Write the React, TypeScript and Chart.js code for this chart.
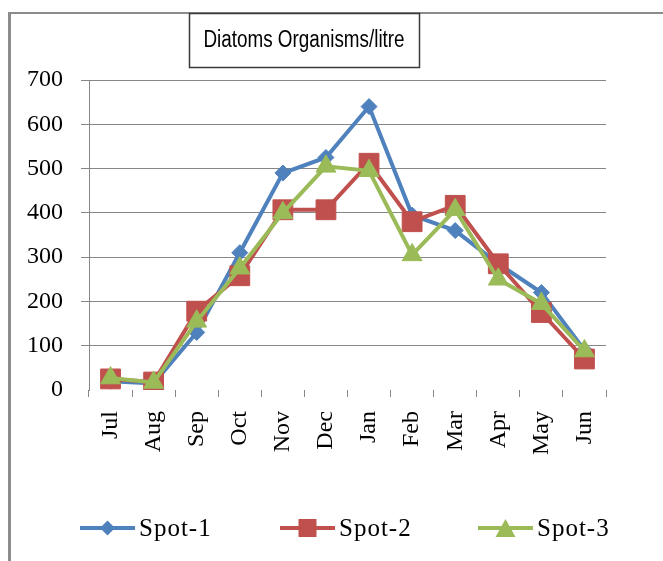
import React, { useEffect, useRef } from "react";
import { Chart, registerables } from "chart.js";

Chart.register(...registerables);

const TITLE = "Diatoms Organisms/litre";
const MONTHS = ["Jul", "Aug", "Sep", "Oct", "Nov", "Dec", "Jan", "Feb", "Mar", "Apr", "May", "Jun"];
const SPOT_1 = [20, 15, 130, 310, 490, 525, 640, 395, 360, 285, 220, 90];
const SPOT_2 = [25, 18, 178, 258, 407, 407, 512, 380, 417, 285, 175, 70];
const SPOT_3 = [27, 17, 155, 275, 400, 505, 495, 305, 407, 250, 195, 88];
const SERIES_NAMES = ["Spot-1", "Spot-2", "Spot-3"];
const Y_MIN = 0;
const Y_MAX = 700;
const Y_STEP = 100;

const BLUE = "#4F81BD";
const RED = "#C0504D";
const GREEN = "#9BBB59";
const GRID = "#868686";

const SERIF = '"Liberation Serif", "Times New Roman", serif';
const SANS = '"Liberation Sans", Arial, sans-serif';

function drawMarker(ctx: CanvasRenderingContext2D, kind: string, x: number, y: number, color: string) {
  ctx.fillStyle = color;
  ctx.beginPath();
  if (kind === "diamond") {
    const r = 7.5;
    ctx.moveTo(x, y - r);
    ctx.lineTo(x + r, y);
    ctx.lineTo(x, y + r);
    ctx.lineTo(x - r, y);
  } else if (kind === "square") {
    const h = 9;
    ctx.rect(x - h, y - h, 2 * h, 2 * h);
  } else {
    const w = 10, h = 9;
    ctx.moveTo(x, y - h);
    ctx.lineTo(x + w, y + h);
    ctx.lineTo(x - w, y + h);
  }
  ctx.closePath();
  ctx.fill();
}

const decorPlugin = {
  id: "decor",
  afterDraw(chart: any) {
    const ctx: CanvasRenderingContext2D = chart.ctx;
    ctx.save();
    // outer frame
    ctx.strokeStyle = "#8c8c8c";
    ctx.lineWidth = 3;
    ctx.beginPath();
    ctx.moveTo(9.5, 12);
    ctx.lineTo(9.5, 561);
    ctx.stroke();
    ctx.lineWidth = 2;
    ctx.beginPath();
    ctx.moveTo(8, 13);
    ctx.lineTo(663, 13);
    ctx.stroke();
    // title box
    ctx.fillStyle = "#ffffff";
    ctx.fillRect(189, 13, 230, 54);
    ctx.strokeStyle = "#3a3a3a";
    ctx.lineWidth = 1.5;
    ctx.strokeRect(189.5, 13.5, 230, 54);
    ctx.save();
    ctx.translate(304, 41);
    ctx.scale(0.82, 1);
    ctx.fillStyle = "#000000";
    ctx.font = `23px ${SANS}`;
    ctx.textAlign = "center";
    ctx.textBaseline = "middle";
    ctx.fillText(TITLE, 0, 0);
    ctx.restore();
    // legend
    const items = [
      { name: SERIES_NAMES[0], color: BLUE, kind: "diamond", x0: 80 },
      { name: SERIES_NAMES[1], color: RED, kind: "square", x0: 280 },
      { name: SERIES_NAMES[2], color: GREEN, kind: "triangle", x0: 478 },
    ];
    const ly = 528;
    for (const it of items) {
      ctx.strokeStyle = it.color;
      ctx.lineWidth = 4;
      ctx.beginPath();
      ctx.moveTo(it.x0, ly);
      ctx.lineTo(it.x0 + 55, ly);
      ctx.stroke();
      drawMarker(ctx, it.kind, it.x0 + 27.5, ly, it.color);
      ctx.fillStyle = "#000000";
      ctx.font = `25px ${SERIF}`;
      (ctx as any).letterSpacing = "1px";
      ctx.textAlign = "left";
      ctx.textBaseline = "middle";
      ctx.fillText(it.name, it.x0 + 59, ly + 1);
      (ctx as any).letterSpacing = "0px";
    }
    ctx.restore();
  },
};

export default function App() {
  const ref = useRef<HTMLCanvasElement | null>(null);
  useEffect(() => {
    if (!ref.current) return;
    const common = { borderWidth: 4, pointBorderWidth: 1, fill: false, tension: 0 };
    const chart = new Chart(ref.current, {
      type: "line",
      data: {
        labels: MONTHS,
        datasets: [
          {
            ...common,
            label: SERIES_NAMES[0],
            data: SPOT_1,
            borderColor: BLUE,
            backgroundColor: BLUE,
            pointBackgroundColor: BLUE,
            pointBorderColor: BLUE,
            pointStyle: "rectRot",
            pointRadius: 8,
            order: 2,
          },
          {
            ...common,
            label: SERIES_NAMES[1],
            data: SPOT_2,
            borderColor: RED,
            backgroundColor: RED,
            pointBackgroundColor: RED,
            pointBorderColor: RED,
            pointStyle: "rect",
            pointRadius: 14,
            order: 1,
          },
          {
            ...common,
            label: SERIES_NAMES[2],
            data: SPOT_3,
            borderColor: GREEN,
            backgroundColor: GREEN,
            pointBackgroundColor: GREEN,
            pointBorderColor: GREEN,
            pointStyle: "triangle",
            pointRadius: 11.5,
            order: 0,
          },
        ],
      },
      options: {
        animation: false,
        responsive: false,
        maintainAspectRatio: false,
        layout: { padding: { left: 0, right: 57, top: 80, bottom: 91 } },
        plugins: {
          legend: { display: false },
          title: { display: false },
          tooltip: { enabled: false },
        },
        scales: {
          x: {
            type: "category",
            offset: true,
            afterFit: (s: any) => {
              s.height = 80;
            },
            border: { display: false },
            grid: {
              offset: true,
              drawOnChartArea: false,
              drawTicks: true,
              tickLength: 7,
              color: GRID,
              lineWidth: 1,
            },
            ticks: {
              autoSkip: false,
              minRotation: 90,
              maxRotation: 90,
              padding: 14,
              color: "#000",
              font: { family: SERIF, size: 24 },
            },
          },
          y: {
            min: Y_MIN,
            max: Y_MAX,
            afterFit: (s: any) => {
              s.width = 89;
            },
            border: { display: true, color: GRID, width: 1 },
            grid: {
              color: (c: any) => (c.tick && c.tick.value === 0 ? "rgba(0,0,0,0)" : GRID),
              lineWidth: 1,
              drawTicks: true,
              tickLength: 8,
            },
            ticks: {
              stepSize: Y_STEP,
              padding: 18,
              color: "#000",
              font: { family: SERIF, size: 24 },
            },
          },
        },
      },
      plugins: [decorPlugin],
    } as any);
    return () => chart.destroy();
  }, []);
  return (
    <div style={{ position: "fixed", left: 0, top: 0, width: 663, height: 561, background: "#fff" }}>
      <canvas ref={ref} width={663} height={561} style={{ display: "block", width: 663, height: 561 }} />
    </div>
  );
}
